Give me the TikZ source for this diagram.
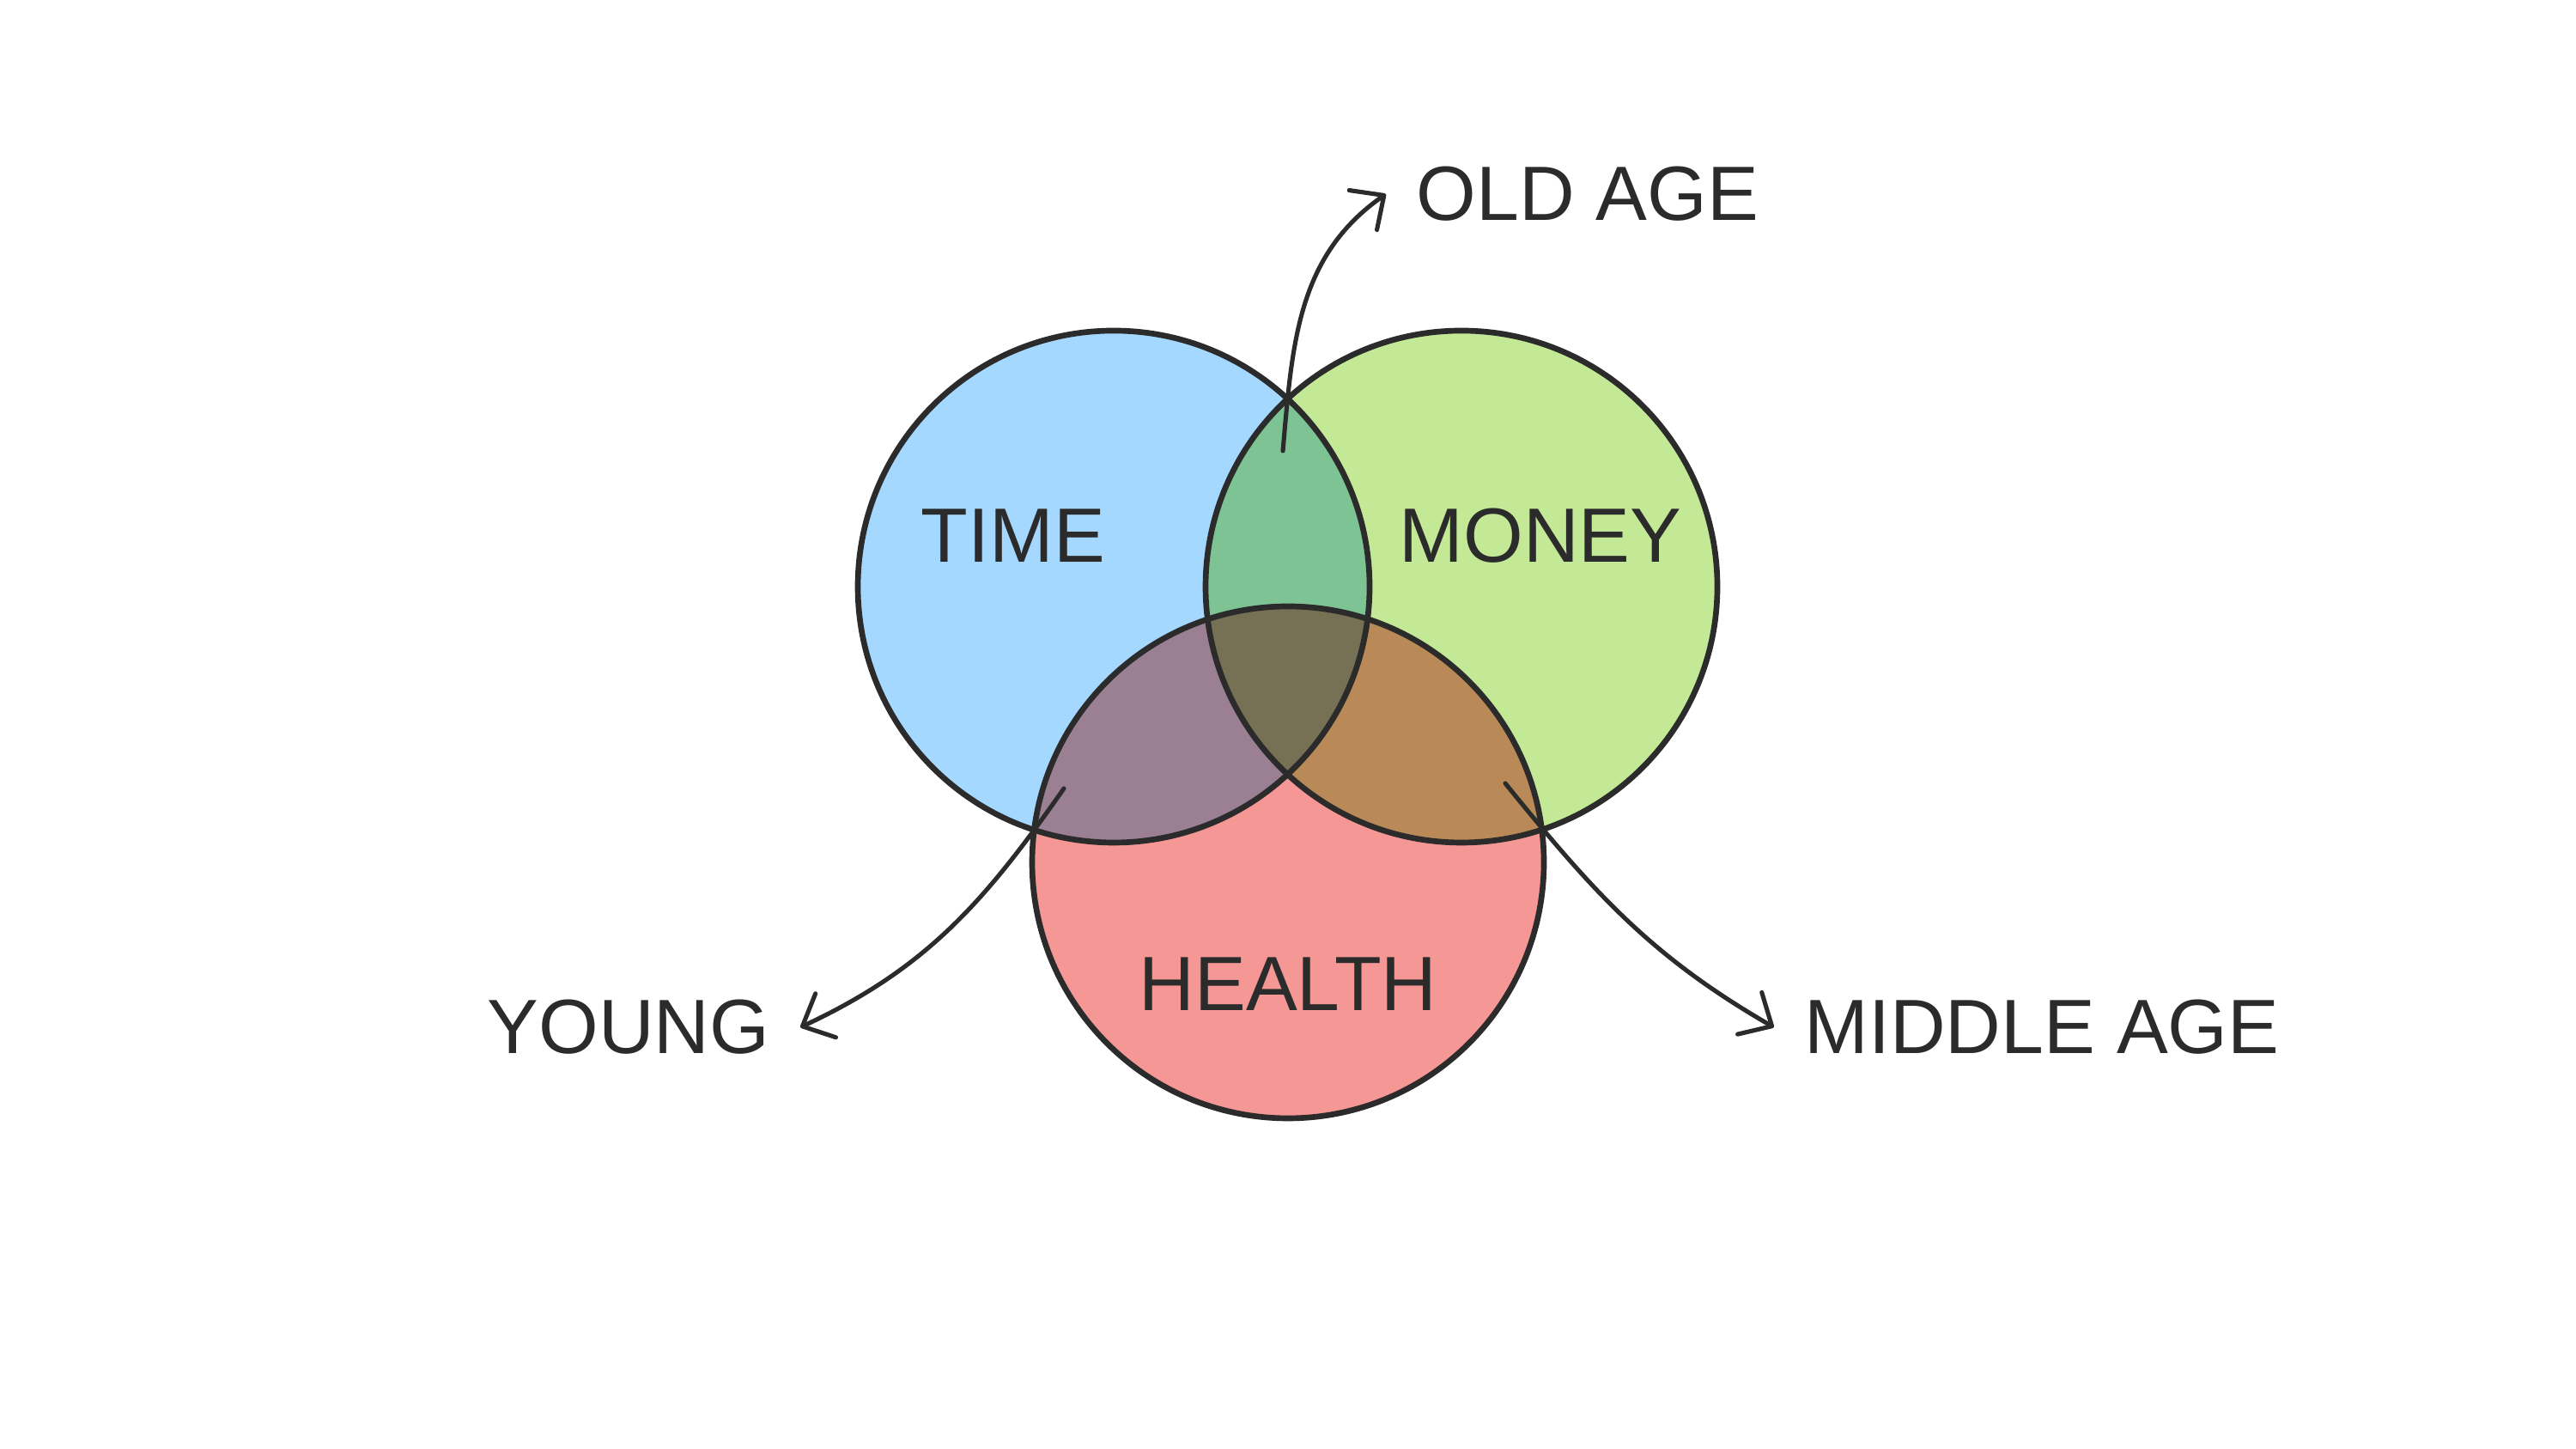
\documentclass[tikz,border=0pt]{standalone}
\usepackage{fontspec}
\setmainfont{Liberation Sans}
\usetikzlibrary{arrows.meta, positioning}

\definecolor{ink}{HTML}{2B2B2B}
\definecolor{timeblue}{HTML}{A5D8FF}
\definecolor{moneygreen}{HTML}{C3E997}
\definecolor{healthred}{HTML}{F49795}
\definecolor{timemoney}{HTML}{7DC393}
\definecolor{timehealth}{HTML}{9B7F93}
\definecolor{moneyhealth}{HTML}{B98A58}
\definecolor{allthree}{HTML}{767154}

\begin{document}
\begin{tikzpicture}[
    word/.style={font=\fontsize{25.5}{30}\selectfont, text=ink, inner sep=10pt},
    ring/.style={draw=ink, line width=1.9pt},
    pointer/.style={draw=ink, line width=1.45pt, line cap=round,
        -{Straight Barb[length=8.5pt, width=16pt, round]}}
]
    % Define the radius for the circles
    \def\radius{2.98}

    % Fix the size of the page
    \useasboundingbox (0,0) rectangle (30,16.87);

    % Centres of the three circles
    \coordinate (tcentre) at (12.97,10.04);
    \coordinate (mcentre) at (17.02,10.04);
    \coordinate (hcentre) at (15.00,6.83);

    % Fill the three circles
    \fill[timeblue] (tcentre) circle[radius=\radius];
    \fill[moneygreen] (mcentre) circle[radius=\radius];
    \fill[healthred] (hcentre) circle[radius=\radius];

    % Fill where two circles overlap
    \begin{scope}
        \clip (tcentre) circle[radius=\radius];
        \fill[timemoney] (mcentre) circle[radius=\radius];
        \fill[timehealth] (hcentre) circle[radius=\radius];
    \end{scope}
    \begin{scope}
        \clip (mcentre) circle[radius=\radius];
        \fill[moneyhealth] (hcentre) circle[radius=\radius];
    \end{scope}

    % Fill the middle, where all three overlap
    \begin{scope}
        \clip (tcentre) circle[radius=\radius];
        \clip (mcentre) circle[radius=\radius];
        \fill[allthree] (hcentre) circle[radius=\radius];
    \end{scope}

    % Draw the outlines
    \draw[ring] (tcentre) circle[radius=\radius];
    \draw[ring] (mcentre) circle[radius=\radius];
    \draw[ring] (hcentre) circle[radius=\radius];

    % Circle labels
    \node[word] (time) at (11.80,10.63) {TIME};
    \node[word] (money) at (17.94,10.63) {MONEY};
    \node[word] (health) at (15.00,5.41) {HEALTH};

    % Outside labels
    \node[word] (oldage) at (18.49,14.61) {OLD AGE};
    \node[word] (young) at (7.32,4.91) {YOUNG};
    \node[word] (middleage) at (23.78,4.91) {MIDDLE AGE};

    % Arrows out of the overlaps
    \coordinate (oldstart) at (14.94,11.62);
    \coordinate (youngstart) at (12.39,7.69);
    \coordinate (middlestart) at (17.53,7.75);

    \draw[pointer] (oldstart) to[out=85, in=215] (oldage.west);
    \draw[pointer] (youngstart) to[out=235, in=25] (young.east);
    \draw[pointer] (middlestart) to[out=-51, in=150] (middleage.west);
\end{tikzpicture}
\end{document}
